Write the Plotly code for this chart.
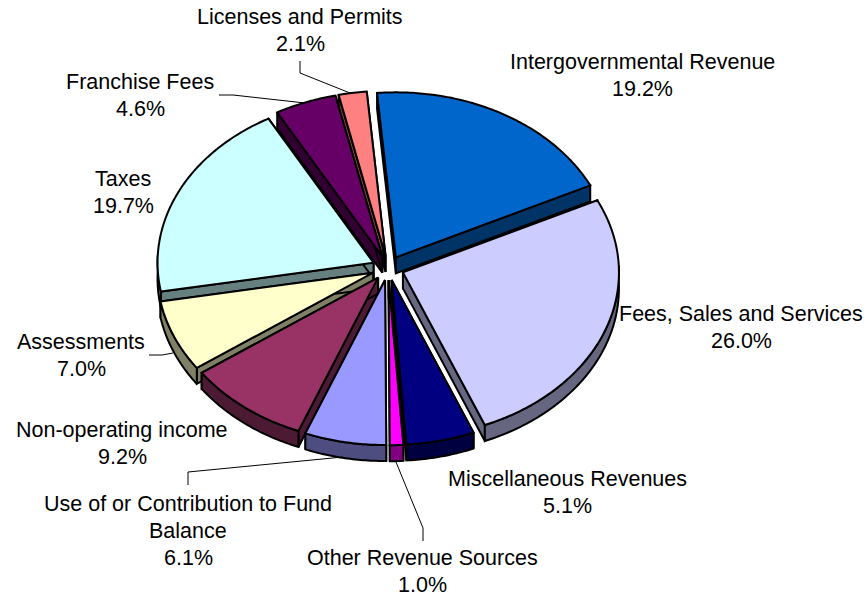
import math
import plotly.graph_objects as go

categories = ["Intergovernmental Revenue", "Fees, Sales and Services", "Miscellaneous Revenues",
              "Other Revenue Sources", "Use of or Contribution to Fund<br>Balance", "Non-operating income",
              "Assessments", "Taxes", "Franchise Fees", "Licenses and Permits"]
values = [19.2, 26.0, 5.1, 1.0, 6.1, 9.2, 7.0, 19.7, 4.6, 2.1]
top_colors = ["#0066CC", "#CCCCFF", "#000080", "#FF00FF", "#9999FF", "#993366", "#FFFFCC", "#CCFFFF", "#660066", "#FF8080"]
side_colors = ["#003366", "#666680", "#000040", "#800080", "#4D4D80", "#4D1A33", "#808066", "#668080", "#330033", "#804040"]
label_x = [642, 741, 567, 422, 188, 122, 81, 123, 140, 300]
label_y = [75, 327, 492, 571, 531, 443, 355, 192, 95, 30]
leaders = [
    ([300, 300, 350], [61, 73, 93]),
    ([219, 233, 305], [95, 95, 103]),
    ([149, 162, 173], [355, 355, 353]),
    ([188, 188, 343], [485, 472, 457]),
    ([423, 423, 396], [541, 528, 462]),
]

CX, CY, RX, RY, EXPLODE, DEPTH, START = 388, 268, 216, 165, 16, 16, -5.0
RATIO = RY / RX
LINE_GAP = 27

fig = go.Figure()


def poly(xs, ys, fill):
    fig.add_trace(go.Scatter(x=xs + xs[:1], y=ys + ys[:1], mode="lines", fill="toself", fillcolor=fill,
                             line=dict(color="#000000", width=2, simplify=False), hoverinfo="skip", showlegend=False))


slices = []
angle = START
for i, v in enumerate(values):
    sweep = v * 3.6
    slices.append((i, angle, angle + sweep))
    angle += sweep

slices.sort(key=lambda s: -math.cos(math.radians((s[1] + s[2]) / 2)))

for i, a0, a1 in slices:
    mid = math.radians((a0 + a1) / 2)
    ax = CX + EXPLODE * math.sin(mid)
    ay = CY - EXPLODE * RATIO * math.cos(mid)
    n = max(4, int((a1 - a0) * 1.5))
    ts = [a0 + (a1 - a0) * k / n for k in range(n + 1)]
    arc_x = [ax + RX * math.sin(math.radians(t)) for t in ts]
    arc_y = [ay - RY * math.cos(math.radians(t)) for t in ts]
    for ex, ey in ((arc_x[0], arc_y[0]), (arc_x[-1], arc_y[-1])):
        poly([ax, ex, ex, ax], [ay, ey, ey + DEPTH, ay + DEPTH], side_colors[i])
    vis = [k for k, t in enumerate(ts) if math.cos(math.radians(t)) < 0.05]
    if len(vis) > 1:
        vx = [arc_x[k] for k in vis]
        vy = [arc_y[k] for k in vis]
        poly(vx + vx[::-1], vy + [y + DEPTH for y in vy[::-1]], side_colors[i])
    poly([ax] + arc_x, [ay] + arc_y, top_colors[i])

for lx, ly in leaders:
    fig.add_trace(go.Scatter(x=lx, y=ly, mode="lines", line=dict(color="#000000", width=1),
                             hoverinfo="skip", showlegend=False))

for c, v, x, y in zip(categories, values, label_x, label_y):
    lines = c.split("<br>") + [f"{v:.1f}%"]
    for k, line in enumerate(lines):
        fig.add_annotation(x=x, y=y + (k - (len(lines) - 1) / 2) * LINE_GAP, text=line, showarrow=False,
                           xanchor="center", yanchor="middle", align="center",
                           font=dict(family="Liberation Sans", size=21.5, color="#000000"))

fig.update_layout(width=867, height=596, margin=dict(l=0, r=0, t=0, b=0), paper_bgcolor="white", plot_bgcolor="white",
                  xaxis=dict(range=[0, 867], visible=False, fixedrange=True),
                  yaxis=dict(range=[596, 0], visible=False, fixedrange=True), showlegend=False)
fig.write_html("out.html", config={"displayModeBar": False},
               post_script="document.body.style.margin='0';document.body.style.overflow='hidden';")
